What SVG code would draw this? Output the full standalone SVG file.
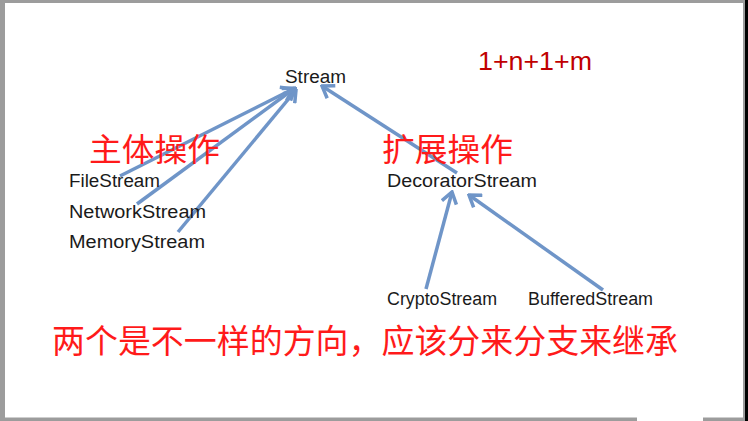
<svg xmlns="http://www.w3.org/2000/svg" width="748" height="421" viewBox="0 0 748 421">
  <style>
    .lbl { font-family: "Liberation Sans", Arial, sans-serif; font-size: 18px; fill: #1a1a1a; }
    .cjk { font-family: "Noto Sans CJK SC", "Noto Sans CJK TC", sans-serif; fill: #ff1a1a; }
    .num { font-family: "Liberation Sans", Arial, sans-serif; font-size: 25px; fill: #c00000; }
    .edge { fill: none; stroke: #6f95c8; stroke-width: 3.5; stroke-linecap: butt; }
  </style>
  <defs>
    <marker id="open-arrow" markerUnits="userSpaceOnUse" viewBox="-14 -9 16 18" refX="0" refY="0" markerWidth="16" markerHeight="18" orient="auto">
      <path d="M -11 -7.5 L 0 0 L -11 7.5" fill="none" stroke="#6f95c8" stroke-width="3.5" stroke-linejoin="miter"/>
    </marker>
  </defs>

  <!-- page frame -->
  <rect x="0" y="0" width="748" height="421" fill="#9c9c9c"/>
  <rect x="5" y="3" width="738" height="414.5" fill="#ffffff"/>
  <rect x="745" y="0" width="3" height="421" fill="#000000"/>
  <!-- corner badge -->
  <g id="badge" fill="#ffffff">
    <path d="M 637 421 L 637 414 Q 637 408 643 408 L 697 408 Q 703 408 703 414 L 703 421 Z"/>
    <path d="M 654 400 Q 656 397 658 399 L 664 408 L 659 408 Z"/>
    <path d="M 688 399 Q 690 397 691 400 L 686 408 L 681 408 Z"/>
  </g>

  <!-- inheritance connectors -->
  <g id="connectors" class="edge">
    <line x1="120" y1="176" x2="293" y2="89" marker-end="url(#open-arrow)"/>
    <line x1="137" y1="204" x2="295" y2="88" marker-end="url(#open-arrow)"/>
    <line x1="178" y1="232" x2="296" y2="90" marker-end="url(#open-arrow)"/>
    <line x1="457" y1="173" x2="322" y2="86" marker-end="url(#open-arrow)"/>
    <line x1="426" y1="289" x2="452" y2="192" marker-end="url(#open-arrow)"/>
    <line x1="603" y1="290" x2="469" y2="195" marker-end="url(#open-arrow)"/>
  </g>

  <g id="stream"><text class="lbl" x="285" y="83" textLength="61" lengthAdjust="spacingAndGlyphs">Stream</text></g>
  <g id="file-stream"><text class="lbl" x="69" y="187" textLength="91" lengthAdjust="spacingAndGlyphs">FileStream</text></g>
  <g id="network-stream"><text class="lbl" x="69" y="218" textLength="137" lengthAdjust="spacingAndGlyphs">NetworkStream</text></g>
  <g id="memory-stream"><text class="lbl" x="69" y="248" textLength="136" lengthAdjust="spacingAndGlyphs">MemoryStream</text></g>
  <g id="decorator-stream"><text class="lbl" x="387" y="187" textLength="150" lengthAdjust="spacingAndGlyphs">DecoratorStream</text></g>
  <g id="crypto-stream"><text class="lbl" x="387" y="305" textLength="110" lengthAdjust="spacingAndGlyphs">CryptoStream</text></g>
  <g id="buffered-stream"><text class="lbl" x="528" y="305" textLength="125" lengthAdjust="spacingAndGlyphs">BufferedStream</text></g>

  <!-- annotations -->
  <text class="num" x="478" y="70" textLength="114" lengthAdjust="spacingAndGlyphs">1+n+1+m</text>
  <text class="cjk" x="89" y="161" font-size="32" textLength="131" lengthAdjust="spacingAndGlyphs">主体操作</text>
  <text class="cjk" x="382" y="161" font-size="32" textLength="131" lengthAdjust="spacingAndGlyphs">扩展操作</text>
  <text class="cjk" x="52" y="353" font-size="33" textLength="626" lengthAdjust="spacingAndGlyphs">两个是不一样的方向，应该分来分支来继承</text>
</svg>
